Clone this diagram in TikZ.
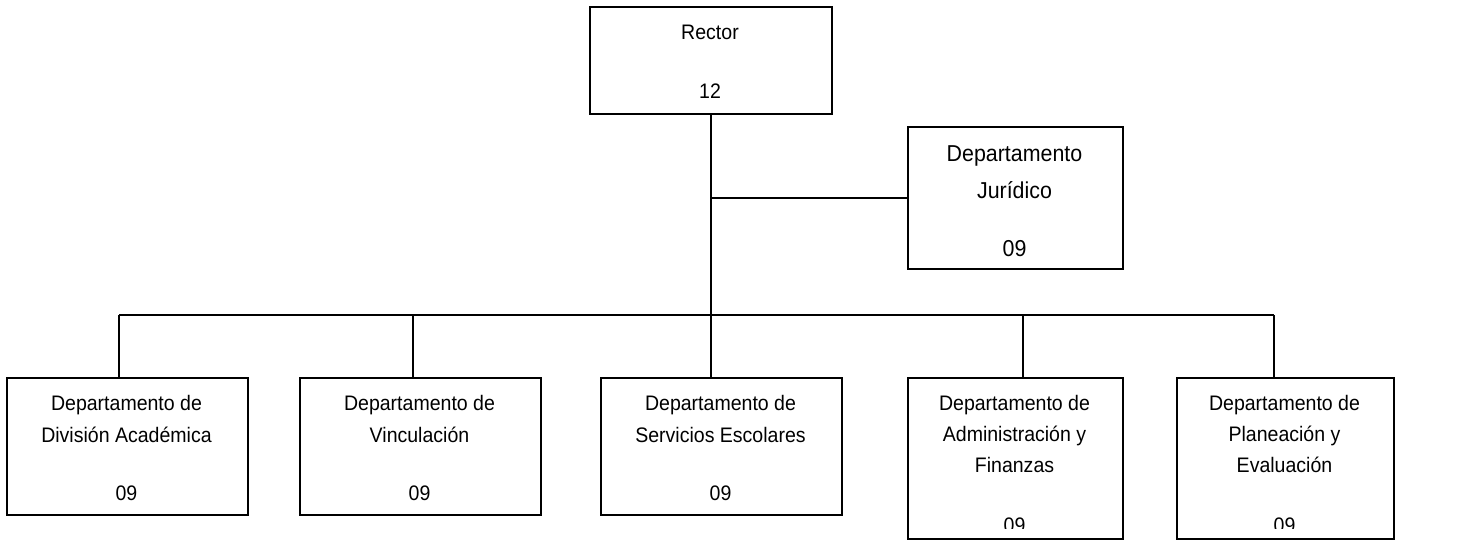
\documentclass[tikz,border=0pt]{standalone}
\usepackage{fontspec}
\setmainfont[FakeStretch=0.93]{Liberation Sans}
\tikzset{
  orgbox/.style={draw, line width=1.5pt, anchor=north west, inner sep=0pt},
  txt/.style={inner sep=0pt, font=\fontsize{21}{25}\selectfont, text height=15pt, text depth=0pt},
  txtbig/.style={inner sep=0pt, font=\fontsize{23}{27}\selectfont, text height=16.5pt, text depth=0pt},
  conn/.style={line width=1.5pt}
}
\begin{document}
\begin{tikzpicture}[x=1pt,y=-1pt]
\useasboundingbox (0,0) rectangle (1461,539);
% boxes
\node[orgbox, minimum width=242pt, minimum height=107pt] (rector) at (589,6) {};
\node[orgbox, minimum width=215pt, minimum height=142pt] (jur) at (907,126) {};
\node[orgbox, minimum width=241pt, minimum height=137pt] (b1) at (6,377) {};
\node[orgbox, minimum width=241pt, minimum height=137pt] (b2) at (299,377) {};
\node[orgbox, minimum width=241pt, minimum height=137pt] (b3) at (600,377) {};
\node[orgbox, minimum width=215pt, minimum height=161pt] (b4) at (907,377) {};
\node[orgbox, minimum width=217pt, minimum height=161pt] (b5) at (1176,377) {};
% texts
\node[txt] (rt1) at (710,32) {Rector};
\node[txt] (rt2) at (710,91) {12};
\node[txtbig] (jt1) at (1014.5,153) {Departamento};
\node[txtbig] (jt2) at (1014.5,190) {Jurídico};
\node[txtbig] (jt3) at (1014.5,248) {09};
\node[txt] (t11) at (126.5,403) {Departamento de};
\node[txt] (t12) at (126.5,435) {División Académica};
\node[txt] (t13) at (126.5,493) {09};
\node[txt] (t21) at (419.5,403) {Departamento de};
\node[txt] (t22) at (419.5,435) {Vinculación};
\node[txt] (t23) at (419.5,493) {09};
\node[txt] (t31) at (720.5,403) {Departamento de};
\node[txt] (t32) at (720.5,435) {Servicios Escolares};
\node[txt] (t33) at (720.5,493) {09};
\node[txt] (t41) at (1014.5,403) {Departamento de};
\node[txt] (t42) at (1014.5,434) {Administración y};
\node[txt] (t43) at (1014.5,465) {Finanzas};
\node[txt] (t51) at (1284.5,403) {Departamento de};
\node[txt] (t52) at (1284.5,434) {Planeación y};
\node[txt] (t53) at (1284.5,465) {Evaluación};
\begin{scope}
\clip (900,370) rectangle (1400,528);
\node[txt] (t44) at (1014.5,525) {09};
\node[txt] (t54) at (1284.5,525) {09};
\end{scope}
% connectors
\coordinate (busL) at (119,315);
\coordinate (busR) at (1274,315);
\coordinate (d2) at (413,315);
\coordinate (d4) at (1023,315);
\draw[conn] (rector.south) -- (rector.south |- b3.north);
\draw[conn] (rector.south |- jur.west) -- (jur.west);
\draw[conn] (busL) -- (busR);
\draw[conn] (busL) -- (busL |- b1.north);
\draw[conn] (d2) -- (d2 |- b2.north);
\draw[conn] (d4) -- (d4 |- b4.north);
\draw[conn] (busR) -- (busR |- b5.north);
\end{tikzpicture}
\end{document}
